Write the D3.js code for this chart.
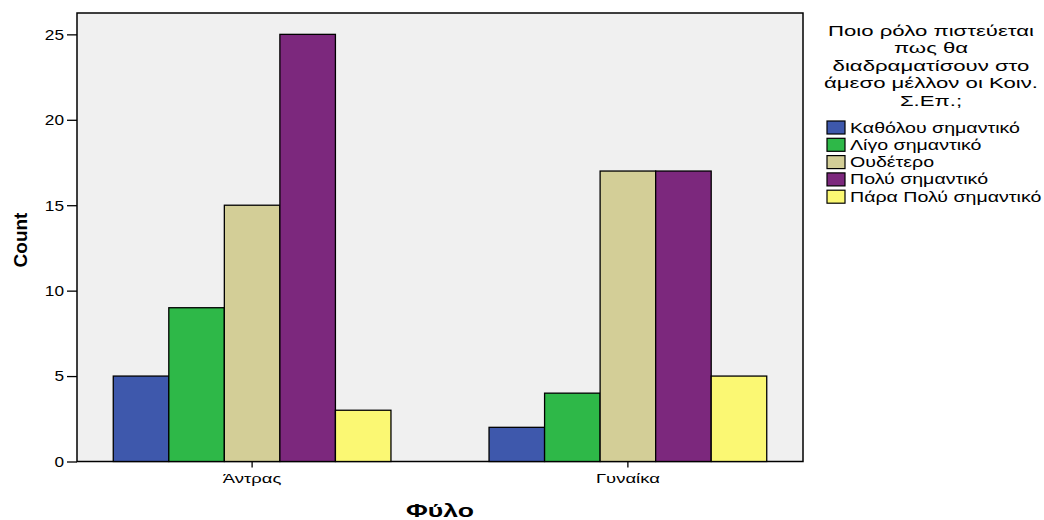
<!DOCTYPE html>
<html><head><meta charset="utf-8">
<script src="https://cdn.jsdelivr.net/npm/d3@7"></script>
<style>body{margin:0;background:#fff;} text{font-family:"Liberation Sans",Arial,sans-serif;}</style>
</head><body><svg id="c" width="1044" height="520"></svg>
<script>
const groups = ["Άντρας", "Γυναίκα"];
const seriesNames = ["Καθόλου σημαντικό", "Λίγο σημαντικό", "Ουδέτερο", "Πολύ σημαντικό", "Πάρα Πολύ σημαντικό"];
const valuesAntras = [5, 9, 15, 25, 3];
const valuesGynaika = [2, 4, 17, 17, 5];
const colors = ["#3e58ac", "#2eb848", "#d3ce97", "#7c287d", "#fbf873"];
const yTicks = [0, 5, 10, 15, 20, 25];
const legendTitle = ["Ποιο ρόλο πιστεύεται", "πως θα", "διαδραματίσουν στο", "άμεσο μέλλον οι Κοιν.", "Σ.Επ.;"];

const svg = d3.select("#c");
const L = 77, R = 803, T = 13, B = 461.5;
const data = [valuesAntras, valuesGynaika];

const x0 = d3.scaleBand().domain(groups).range([L, R]).paddingInner(0.261).paddingOuter(0.0965);
const x1 = d3.scaleBand().domain(seriesNames).range([0, x0.bandwidth()]);
const y = d3.scaleLinear().domain([0, 26.25]).range([B, T]);

svg.append("rect").attr("x", L).attr("y", T).attr("width", R - L).attr("height", B - T)
  .attr("fill", "#f0f0f0").attr("stroke", "#000").attr("stroke-width", 1.5);

groups.forEach((g, gi) => {
  svg.append("g").selectAll("rect").data(data[gi]).join("rect")
    .attr("x", (d, i) => x0(g) + x1(seriesNames[i]))
    .attr("y", d => y(d))
    .attr("width", x1.bandwidth())
    .attr("height", d => B - y(d))
    .attr("fill", (d, i) => colors[i])
    .attr("stroke", "#000").attr("stroke-width", 1.3);
});

function stext(parent, x, yy, str, size, f, anchor, bold) {
  const g = parent.append("g").attr("transform", `translate(${x},${yy}) scale(${f},1)`);
  const t = g.append("text").attr("text-anchor", anchor || "start").attr("font-size", size).text(str);
  if (bold) t.attr("font-weight", "bold");
  return g;
}

const yAxis = svg.append("g").attr("transform", `translate(${L},0)`)
  .call(d3.axisLeft(y).tickValues(yTicks).tickSize(10).tickPadding(3));
yAxis.select(".domain").remove();
yAxis.selectAll("line").attr("stroke", "#000").attr("stroke-width", 1.3);
yAxis.selectAll("text").attr("font-size", 15).attr("fill", "#000").attr("x", 0)
  .attr("transform", "translate(-13,0) scale(1.15,1)");

const xAxis = svg.append("g").attr("transform", `translate(0,${B})`)
  .call(d3.axisBottom(x0).tickSize(6).tickPadding(6));
xAxis.select(".domain").remove();
xAxis.selectAll("line").attr("stroke", "#000").attr("stroke-width", 1.3);
xAxis.selectAll("text").attr("font-size", 13).attr("fill", "#000")
  .attr("transform", "scale(1.42,1)");

svg.append("text").attr("transform", "translate(27,240) rotate(-90)")
  .attr("text-anchor", "middle").attr("font-size", 19).attr("font-weight", "bold").text("Count");
stext(svg, 440, 517, "Φύλο", 19, 1.4, "middle", true);

const lg = svg.append("g");
legendTitle.forEach((t, i) => {
  stext(lg, 931, 35.5 + i * 17.5, t, 15.5, 1.43, "middle");
});
seriesNames.forEach((s, i) => {
  const yy = 121 + i * 17.3;
  lg.append("rect").attr("x", 827).attr("y", yy).attr("width", 18).attr("height", 13)
    .attr("fill", colors[i]).attr("stroke", "#000").attr("stroke-width", 1.2);
  stext(lg, 850, yy + 11.5, s, 14, 1.4, "start");
});
</script></body></html>
